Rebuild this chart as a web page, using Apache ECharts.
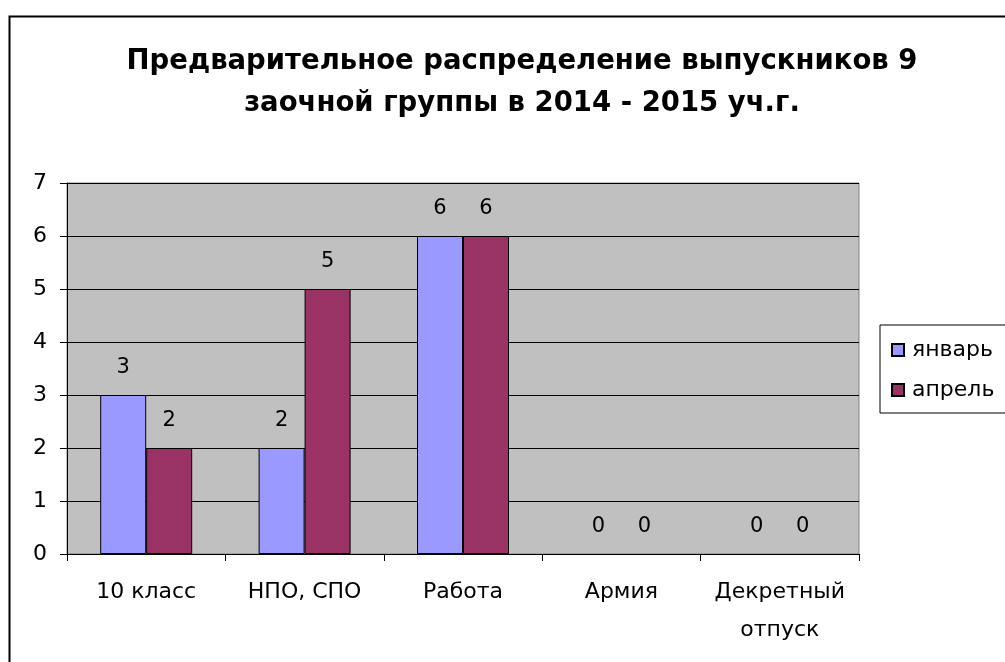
<!DOCTYPE html>
<html>
<head>
<meta charset="utf-8">
<script src="https://cdn.jsdelivr.net/npm/echarts@6/dist/echarts.min.js"></script>
<style>
  html, body { margin: 0; padding: 0; background: #fff; }
  #myChart { width: 1005px; height: 662px; }
</style>
</head>
<body>
<div id="myChart"></div>
<script>
// данные диаграммы
const categories = ['10 класс', 'НПО, СПО', 'Работа', 'Армия', 'Декретный\nотпуск']
const january = [3, 2, 6, 0, 0]
const april = [2, 5, 6, 0, 0]
const yTicks = [0, 1, 2, 3, 4, 5, 6, 7]

const FONT = '"DejaVu Sans", sans-serif'

let myChart = echarts.init(document.getElementById('myChart'))

const labelStyle = {
  show: true,
  position: 'top',
  distance: 17,
  color: '#000',
  fontFamily: FONT,
  fontSize: 21
}

// у нулевых столбиков нет рамки
function toItems (arr, color) {
  return arr.map(v => ({
    value: v,
    itemStyle: { color: color, borderColor: '#000', borderWidth: v === 0 ? 0 : 1 }
  }))
}

myChart.setOption({
  backgroundColor: '#fff',
  animation: false,
  title: {
    text: 'Предварительное распределение выпускников 9\nзаочной группы в 2014 - 2015 уч.г.',
    left: 517,
    top: 36,
    textAlign: 'center',
    textStyle: {
      fontFamily: FONT,
      fontWeight: 'bold',
      fontSize: 27.5,
      lineHeight: 42,
      color: '#000'
    }
  },
  graphic: [{
    type: 'rect',
    left: 7,
    top: 14,
    shape: { width: 1010, height: 660 },
    style: { fill: 'none', stroke: '#000', lineWidth: 2 },
    silent: true
  }],
  legend: {
    orient: 'vertical',
    left: 880,
    top: 325,
    padding: [14, 12, 12, 11],
    itemGap: 18,
    itemWidth: 12,
    itemHeight: 12,
    borderColor: '#000',
    borderWidth: 1,
    icon: 'rect',
    data: ['январь', 'апрель'],
    textStyle: { fontFamily: FONT, fontSize: 22, color: '#000', padding: [0, 0, 0, 3] }
  },
  grid: {
    left: 67,
    right: 146,
    top: 183,
    bottom: 108,
    show: true,
    backgroundColor: '#c0c0c0',
    borderColor: '#808080',
    borderWidth: 1
  },
  xAxis: {
    type: 'category',
    data: categories,
    axisLine: { lineStyle: { color: '#000', width: 1 } },
    axisTick: { show: true, length: 7, inside: false, lineStyle: { color: '#000' } },
    axisLabel: {
      margin: 19,
      color: '#000',
      fontFamily: FONT,
      fontSize: 22,
      lineHeight: 38,
      interval: 0
    }
  },
  yAxis: {
    type: 'value',
    min: yTicks[0],
    max: yTicks[yTicks.length - 1],
    interval: 1,
    axisLine: { show: true, lineStyle: { color: '#000', width: 1 } },
    axisTick: { show: true, length: 7, lineStyle: { color: '#000' } },
    axisLabel: {
      margin: 20,
      color: '#000',
      fontFamily: FONT,
      fontSize: 22
    },
    splitLine: { show: true, lineStyle: { color: '#000', width: 1 } }
  },
  series: [
    {
      name: 'январь',
      type: 'bar',
      data: toItems(january, '#9999ff'),
      barWidth: 46,
      barGap: '0%',
      itemStyle: { color: '#9999ff', borderColor: '#000', borderWidth: 1 },
      label: labelStyle
    },
    {
      name: 'апрель',
      type: 'bar',
      data: toItems(april, '#993366'),
      barWidth: 46,
      barGap: '0%',
      itemStyle: { color: '#993366', borderColor: '#000', borderWidth: 1 },
      label: labelStyle
    }
  ]
})
</script>
</body>
</html>
